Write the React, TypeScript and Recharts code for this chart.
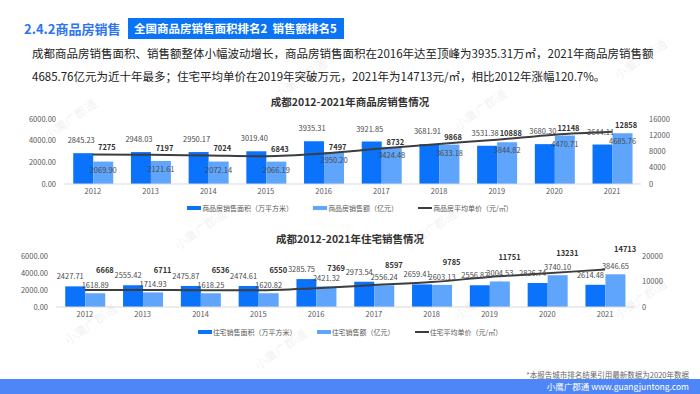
import React from 'react';
import { ComposedChart, Bar, Line, XAxis, YAxis, Legend, LabelList } from 'recharts';

const years = ['2012', '2013', '2014', '2015', '2016', '2017', '2018', '2019', '2020', '2021'];

// 商品房
const saleArea = [2845.23, 2948.03, 2950.17, 3019.4, 3935.31, 3921.85, 3681.91, 3531.38, 3680.3, 3644.11];
const saleAmount = [2069.9, 2121.61, 2072.14, 2066.19, 2950.2, 3424.48, 3633.18, 3844.82, 4470.71, 4685.76];
const salePrice = [7275, 7197, 7024, 6843, 7497, 8732, 9868, 10888, 12148, 12858];

// 住宅
const homeArea = [2427.71, 2555.42, 2475.87, 2474.61, 3285.75, 2973.54, 2659.41, 2556.82, 2826.74, 2614.48];
const homeAmount = [1618.89, 1714.93, 1618.25, 1620.82, 2421.32, 2556.24, 2603.13, 3004.53, 3740.1, 3846.65];
const homePrice = [6668, 6711, 6536, 6550, 7369, 8597, 9785, 11751, 13231, 14713];

const leftTicks = [0, 2000, 4000, 6000];
const rightTicks1 = [0, 4000, 8000, 12000, 16000];
const rightTicks2 = [0, 5000, 10000, 15000, 20000];

const legend1 = ['商品房销售面积（万平方米）', '商品房销售额（亿元）', '商品房平均单价（元/㎡）'];
const legend2 = ['住宅销售面积（万平方米）', '住宅销售额（亿元）', '住宅平均单价（元/㎡）'];

const data1 = years.map((y, i) => ({ year: y, area: saleArea[i], amount: saleAmount[i], price: salePrice[i] }));
const data2 = years.map((y, i) => ({ year: y, area: homeArea[i], amount: homeAmount[i], price: homePrice[i] }));

const FONT = '"Noto Sans CJK SC", "Noto Sans", sans-serif';
const DARK = '#0a72fb';
const LIGHT = '#5fa5fb';
const LINE = '#3d3d3d';
const tickStyle = { fill: '#595959', fontSize: 7.5, fontFamily: FONT };

function makeLegend(names: string[]) {
  return () => (
    <div style={{ display: 'flex', justifyContent: 'center', gap: 20, height: 12, alignItems: 'center', fontFamily: FONT, fontSize: 7, color: '#595959' }}>
      {names.map((n, i) => (
        <div key={n} style={{ display: 'flex', alignItems: 'center' }}>
          <span style={{ display: 'inline-block', width: 14, height: i == 2 ? 2 : 4, background: [DARK, LIGHT, LINE][i], marginRight: 1 }} />
          <span>{n}</span>
        </div>
      ))}
    </div>
  );
}

function priceLabel(dx: number, dy: number) {
  return (props: any) => {
    const { x, y, value } = props;
    return (
      <text x={x + dx} y={y + dy} textAnchor="middle" fontSize={7.5} fontWeight="bold" fill="#333" fontFamily={FONT}>
        {value}
      </text>
    );
  };
}

function barLabel(dx: number, dy: number) {
  return (props: any) => {
    const { x, y, width, value } = props;
    return (
      <text x={x + width / 2 + dx} y={y + dy} textAnchor="middle" fontSize={7.5} fill="#4a4a4a" fontFamily={FONT}>
        {value.toFixed(2)}
      </text>
    );
  };
}

const marks = [
  [70, 120], [300, 80], [480, 110], [640, 60], [200, 230], [430, 230], [640, 300], [90, 325], [480, 300], [280, 350],
];

export default function App() {
  return (
    <div style={{ position: 'absolute', left: 0, top: 0, width: 700, height: 394, background: '#fff', overflow: 'hidden', fontFamily: FONT }}>
      {marks.map(([mx, my], i) => (
        <div key={i} style={{ position: 'absolute', left: mx - 30, top: my - 10, transform: 'rotate(-35deg)', color: 'rgba(150,150,150,0.15)', fontSize: 12, whiteSpace: 'nowrap' }}>
          小鹰广郡通
        </div>
      ))}

      <div style={{ position: 'absolute', left: 24, top: 18, fontSize: 13, fontWeight: 'bold', color: '#2c74f2', lineHeight: '21px', whiteSpace: 'nowrap' }}>2.4.2商品房销售</div>
      <div style={{ position: 'absolute', left: 128, top: 18, width: 216, height: 21, background: '#0b74f5', color: '#fff', fontSize: 11.5, fontWeight: 'bold', lineHeight: '21px', paddingLeft: 6, boxSizing: 'border-box', whiteSpace: 'nowrap' }}>
        全国商品房销售面积排名2&nbsp;&nbsp;销售额排名5
      </div>
      <div style={{ position: 'absolute', left: 32, top: 42, width: 660, fontSize: 11.5, color: '#222', lineHeight: '23px' }}>
        <div style={{ whiteSpace: 'nowrap' }}>成都商品房销售面积、销售额整体小幅波动增长，商品房销售面积在2016年达至顶峰为3935.31万㎡，2021年商品房销售额</div>
        <div style={{ whiteSpace: 'nowrap' }}>4685.76亿元为近十年最多；住宅平均单价在2019年突破万元，2021年为14713元/㎡，相比2012年涨幅120.7%。</div>
      </div>

      <div style={{ position: 'absolute', left: 0, top: 94, width: 700, textAlign: 'center', fontSize: 10.5, fontWeight: 'bold', color: '#333', lineHeight: '16px' }}>
        成都2012-2021年商品房销售情况
      </div>
      <div style={{ position: 'absolute', left: 0, top: 0 }}>
        <ComposedChart width={700} height={225} data={data1} margin={{ top: 119, right: 0, left: 0, bottom: 11 }} barCategoryGap="16%" barGap={0}>
          <XAxis dataKey="year" height={18} tick={tickStyle} tickLine={false} tickSize={0} tickMargin={5} axisLine={{ stroke: '#d9d9d9' }} />
          <YAxis yAxisId="l" width={64} domain={[0, 6000]} ticks={leftTicks} tickFormatter={(v: number) => v.toFixed(2)} tick={tickStyle} tickLine={false} axisLine={false} />
          <YAxis yAxisId="r" orientation="right" width={59} domain={[0, 16000]} ticks={rightTicks1} tick={tickStyle} tickLine={false} axisLine={false} />
          <Legend verticalAlign="bottom" height={12} content={makeLegend(legend1)} />
          <Bar yAxisId="l" dataKey="area" name={legend1[0]} fill={DARK} isAnimationActive={false}>
            <LabelList dataKey="area" content={barLabel(-2, -10)} />
          </Bar>
          <Bar yAxisId="l" dataKey="amount" name={legend1[1]} fill={LIGHT} isAnimationActive={false}>
            <LabelList dataKey="amount" content={barLabel(0, 11)} />
          </Bar>
          <Line yAxisId="r" type="monotone" dataKey="price" name={legend1[2]} stroke={LINE} strokeWidth={2} dot={false} isAnimationActive={false}>
            <LabelList dataKey="price" content={priceLabel(14, -4)} />
          </Line>
        </ComposedChart>
      </div>

      <div style={{ position: 'absolute', left: 0, top: 231, width: 700, textAlign: 'center', fontSize: 10.5, fontWeight: 'bold', color: '#333', lineHeight: '16px' }}>
        成都2012-2021年住宅销售情况
      </div>
      <div style={{ position: 'absolute', left: 0, top: 225 }}>
        <ComposedChart width={700} height={120} data={data2} margin={{ top: 31, right: 0, left: 0, bottom: 7 }} barCategoryGap="16%" barGap={0}>
          <XAxis dataKey="year" height={19} tick={tickStyle} tickLine={false} tickSize={0} tickMargin={5} axisLine={{ stroke: '#d9d9d9' }} />
          <YAxis yAxisId="l" width={56} domain={[0, 6000]} ticks={leftTicks} tickFormatter={(v: number) => v.toFixed(2)} tick={tickStyle} tickLine={false} axisLine={false} />
          <YAxis yAxisId="r" orientation="right" width={66} domain={[0, 20000]} ticks={rightTicks2} tick={tickStyle} tickLine={false} axisLine={false} />
          <Legend verticalAlign="bottom" height={12} content={makeLegend(legend2)} />
          <Bar yAxisId="l" dataKey="area" name={legend2[0]} fill={DARK} isAnimationActive={false}>
            <LabelList dataKey="area" content={barLabel(-5, -7)} />
          </Bar>
          <Bar yAxisId="l" dataKey="amount" name={legend2[1]} fill={LIGHT} isAnimationActive={false}>
            <LabelList dataKey="amount" content={barLabel(0, -5)} />
          </Bar>
          <Line yAxisId="r" type="monotone" dataKey="price" name={legend2[2]} stroke={LINE} strokeWidth={2} dot={false} isAnimationActive={false}>
            <LabelList dataKey="price" content={priceLabel(20, -17)} />
          </Line>
        </ComposedChart>
      </div>

      <div style={{ position: 'absolute', right: 11, top: 369, fontSize: 7.5, color: '#666', whiteSpace: 'nowrap' }}>
        *本报告城市排名结果引用最新数据为2020年数据
      </div>
      <div style={{ position: 'absolute', left: 0, top: 379, width: 700, height: 15, background: '#4f86f7' }}>
        <div style={{ position: 'absolute', right: 11, top: 0, fontSize: 8.5, lineHeight: '15px', color: '#fff', whiteSpace: 'nowrap' }}>
          小鹰广郡通 www.guangjuntong.com
        </div>
      </div>
    </div>
  );
}
